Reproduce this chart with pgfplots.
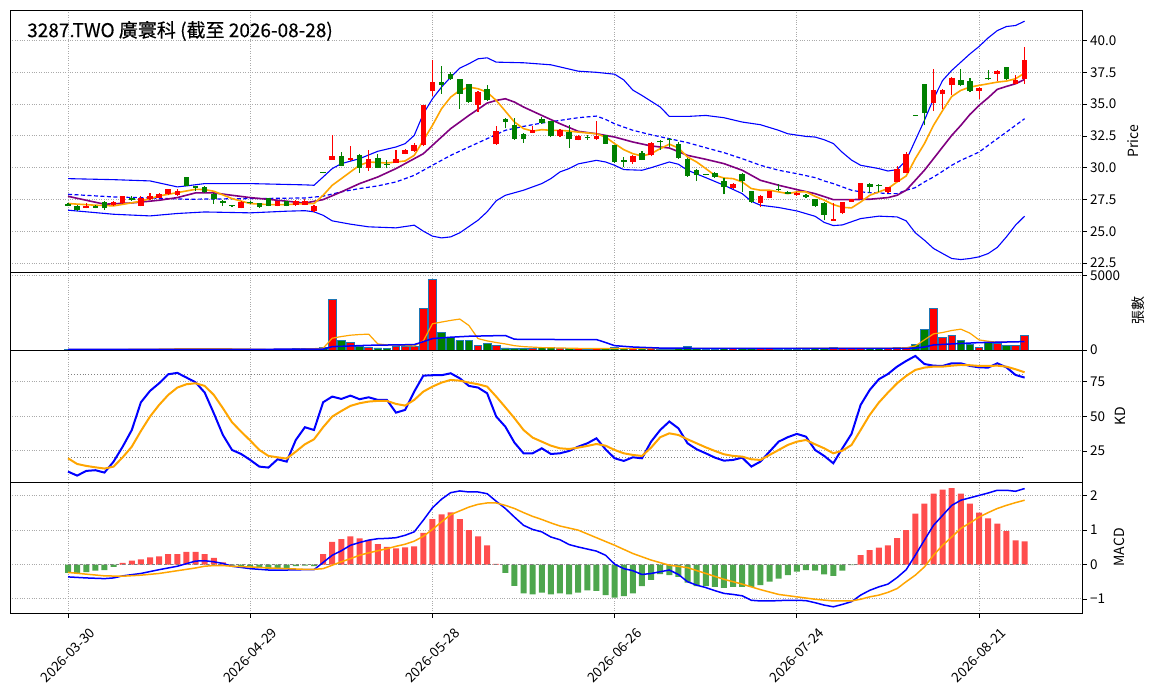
\documentclass[border=0pt]{standalone}
\usepackage{fontspec}
\setmainfont{Noto Sans CJK TC}
\newfontfamily\titlefont[FakeBold=0.3]{Noto Sans CJK TC}
\usepackage{pgfplots}
\usepackage{pgfplotstable}
\pgfplotsset{compat=1.18}
\definecolor{cred}{RGB}{255,0,0}
\definecolor{cgreen}{RGB}{0,128,0}
\definecolor{mred}{RGB}{255,77,77}
\definecolor{mgreen}{RGB}{77,166,77}
\definecolor{edgeb}{RGB}{31,119,180}
\definecolor{corange}{RGB}{255,165,0}
\definecolor{cpurple}{RGB}{128,0,128}
\definecolor{gridc}{RGB}{170,170,170}

\pgfplotstableread{
i o h l c v
2 26.85 27.25 26.80 27.00 25
5 27.03 27.35 27.00 27.30 30
6 27.20 27.80 27.15 27.75 50
8 27.00 27.75 26.95 27.65 30
9 27.50 28.05 27.45 27.80 45
10 27.65 28.00 27.60 27.90 40
11 27.90 28.35 27.85 28.30 50
12 27.85 28.35 27.80 28.15 45
19 26.85 27.35 26.80 27.30 30
23 27.00 27.40 26.95 27.35 40
25 27.05 27.45 27.00 27.35 100
26 27.10 27.50 27.05 27.36 110
27 26.60 27.05 26.55 27.00 120
29 30.63 32.60 30.60 30.90 3400
31 30.58 31.70 30.55 30.80 520
33 30.00 31.40 29.74 30.66 180
36 30.40 31.37 30.35 30.66 250
37 31.10 31.50 31.05 31.40 250
38 31.30 31.95 31.25 31.78 250
39 31.76 34.95 31.70 34.90 2800
40 36.00 38.43 35.60 36.70 4750
45 34.95 36.00 34.40 35.94 315
47 31.84 33.25 31.80 32.90 315
51 32.73 33.30 32.70 33.00 90
54 32.46 33.05 32.40 33.00 90
56 32.20 32.55 32.15 32.46 80
58 32.23 33.64 32.20 32.46 90
62 30.45 31.00 30.30 30.95 90
64 30.97 32.00 30.90 31.97 120
73 28.41 28.80 28.35 28.75 80
76 27.23 27.85 26.90 27.80 110
77 27.65 28.20 27.60 28.15 90
80 27.83 28.10 27.80 28.04 60
84 25.82 27.20 25.80 25.98 180
85 26.40 27.30 26.35 27.27 110
86 27.32 27.55 27.30 27.50 80
87 27.52 28.80 27.50 28.78 130
90 28.10 28.50 28.05 28.46 90
91 28.88 30.15 28.85 29.90 180
92 29.60 31.25 29.55 31.05 200
95 35.08 37.78 34.45 36.08 2800
96 35.76 36.20 34.65 36.13 855
97 36.47 37.10 35.70 37.07 990
100 36.02 36.35 35.40 36.28 180
102 37.38 37.70 36.80 37.57 450
104 36.62 37.30 36.55 36.86 290
105 36.94 39.50 36.60 38.43 990
}\upT

\pgfplotstableread{
i o h l c v
0 27.12 27.20 26.95 27.02 40
1 27.00 27.05 26.60 26.65 30
3 26.95 27.05 26.80 26.85 20
4 27.30 27.35 26.70 26.80 35
7 27.65 27.80 27.40 27.45 40
13 29.25 29.28 28.55 28.57 80
14 28.55 28.60 28.20 28.40 40
15 28.50 28.55 28.05 28.10 35
16 27.95 28.00 27.15 27.50 40
17 27.40 27.45 27.00 27.25 25
18 27.00 27.02 26.95 26.97 20
20 27.30 27.35 27.15 27.20 25
21 27.20 27.25 26.85 26.90 30
22 27.60 27.65 26.95 27.00 35
24 27.35 27.40 26.95 27.00 50
28 29.62 29.65 29.55 29.58 170
30 30.90 31.20 30.10 30.14 650
32 31.00 31.05 29.60 30.00 250
34 30.80 31.05 29.95 30.00 135
35 30.27 30.60 29.95 30.20 110
41 36.70 37.96 35.80 36.50 1150
42 37.38 37.50 36.90 36.96 810
43 36.94 36.95 34.64 35.80 610
44 36.55 36.60 35.10 35.16 650
46 36.20 36.50 35.25 35.30 450
48 33.85 33.90 33.10 33.60 135
49 33.33 33.93 32.20 32.26 90
50 32.67 32.70 31.97 32.23 90
52 33.85 33.95 33.45 33.50 180
53 33.64 33.70 32.40 32.46 180
55 32.80 33.38 31.58 32.23 90
57 32.40 32.55 32.20 32.33 70
59 32.54 32.60 31.85 31.89 100
60 31.76 31.80 30.40 30.45 150
61 30.55 30.85 30.05 30.47 80
63 31.16 31.30 30.60 30.63 100
65 32.10 32.15 31.40 32.00 70
66 32.25 32.30 31.60 32.15 60
67 31.89 32.05 30.70 30.76 130
68 30.71 30.75 29.30 29.37 250
69 29.85 29.90 28.95 29.40 120
70 29.47 29.50 29.40 29.43 60
71 29.58 29.70 29.20 29.27 70
72 28.93 29.20 27.90 28.49 120
74 29.53 29.60 28.10 28.96 100
75 28.15 28.20 27.25 27.31 130
78 28.36 28.75 28.20 28.23 70
79 28.12 28.15 27.90 27.96 60
81 27.83 27.90 27.60 27.70 50
82 27.52 27.55 26.90 26.97 90
83 27.26 27.30 25.85 26.30 120
88 28.75 28.78 28.00 28.50 100
89 28.58 28.75 28.10 28.54 80
93 34.12 34.15 34.05 34.08 360
94 36.55 36.60 33.33 34.30 1395
98 36.86 37.78 36.40 36.47 650
99 36.78 37.05 35.95 36.02 360
101 37.07 37.65 36.90 36.97 495
103 37.88 37.90 36.90 36.94 290
}\dnT

\pgfplotstableread{
i v
6 0.05
7 0.11
8 0.15
9 0.21
10 0.24
11 0.30
12 0.30
13 0.37
14 0.37
15 0.30
16 0.19
17 0.06
28 0.30
29 0.66
30 0.74
31 0.82
32 0.76
33 0.71
34 0.59
35 0.51
36 0.47
37 0.50
38 0.53
39 0.92
40 1.32
41 1.46
42 1.52
43 1.32
44 1.00
45 0.82
46 0.56
47 0.02
87 0.27
88 0.42
89 0.49
90 0.56
91 0.77
92 1.00
93 1.48
94 1.77
95 2.06
96 2.18
97 2.22
98 2.06
99 1.77
100 1.51
101 1.34
102 1.19
103 0.97
104 0.70
105 0.67
}\macdUp

\pgfplotstableread{
i v
0 -0.24
1 -0.24
2 -0.22
3 -0.18
4 -0.16
5 -0.07
18 -0.03
19 -0.04
20 -0.07
21 -0.09
22 -0.13
23 -0.12
24 -0.12
25 -0.05
26 -0.03
27 -0.05
48 -0.24
49 -0.62
50 -0.84
51 -0.87
52 -0.82
53 -0.87
54 -0.84
55 -0.87
56 -0.82
57 -0.75
58 -0.77
59 -0.89
60 -0.96
61 -0.92
62 -0.84
63 -0.63
64 -0.45
65 -0.28
66 -0.31
67 -0.36
68 -0.53
69 -0.63
70 -0.63
71 -0.65
72 -0.68
73 -0.65
74 -0.65
75 -0.65
76 -0.60
77 -0.50
78 -0.41
79 -0.31
80 -0.21
81 -0.16
82 -0.18
83 -0.29
84 -0.33
85 -0.18
86 -0.02
}\macdDn

\pgfplotsset{
 panel/.style={
  scale only axis, width=1072pt, anchor=south west,
  xmin=-6.37, xmax=111.3,
  xtick={0,20,40,60,80,100},
  xticklabels={},
  xtick pos=bottom,
  ytick pos=right, yticklabel pos=right,
  tick align=outside,
  major tick length=4.5pt,
  tick style={black, line width=0.8pt},
  axis line style={line width=0.9pt},
  grid=major,
  major grid style={gridc, dotted, line width=0.9pt},
  ticklabel style={font=\fontsize{13.5}{16}\selectfont},
  /pgf/number format/assume math mode=true,
  scaled y ticks=false,
  every axis y label/.style={rotate=90, anchor=center, font=\fontsize{14}{16}\selectfont},
 },
 wick/.style={draw=none, mark=none, forget plot,
   error bars/.cd, y dir=plus, y explicit, error mark=none,
   error bar style={line width=1.1pt, draw=#1, solid}},
 body/.style={draw=none, mark=none, forget plot,
   error bars/.cd, y dir=plus, y explicit, error mark=none,
   error bar style={line width=5.6pt, draw=#1, solid}},
}

\begin{document}
\begin{tikzpicture}
\useasboundingbox (0,0) rectangle (1155pt,698pt);

% ---------------- Price panel ----------------
\begin{axis}[panel, at={(10pt,426pt)}, height=262pt,
  ymin=21.8, ymax=42.4,
  ytick={22.5,25,27.5,30,32.5,35,37.5,40},
  yticklabels={22.5,25.0,27.5,30.0,32.5,35.0,37.5,40.0},
  xtick style={draw=none},
  ylabel={Price}, ylabel style={at={(axis description cs:1.0476,0.5)}}]
% Bollinger upper
\addplot[blue, line width=1.1pt] coordinates {(0,29.14) (5,29.06) (9,28.96) (12,28.49) (13,28.57) (15,28.75) (20,28.75) (26,28.65) (27,28.62) (28,29.27) (29,29.93) (30,30.32) (32,30.71) (34,31.29) (36,31.63) (37,31.89) (38,32.54) (39,34.24) (40,35.42) (41,36.34) (42,37.12) (43,37.83) (44,38.17) (45,38.56) (46,38.64) (47,38.3) (50,38.25) (53,38.09) (56,37.59) (58,37.5) (60,37.35) (61,36.9) (62,36.1) (63,35.68) (65,34.77) (66,34.03) (68,34.03) (70,34.11) (72,33.93) (74,33.59) (76,33.38) (78,32.94) (79,32.67) (81,32.46) (82,32.41) (83,32.2) (84,31.9) (85,31.2) (86,30.6) (87,30.19) (88,30.06) (89,29.93) (90,29.74) (91,29.85) (92,30.58) (93,32.15) (94,33.72) (95,35.42) (96,36.86) (97,37.65) (98,38.3) (99,38.95) (100,39.53) (101,40.21) (102,40.78) (103,41.1) (104,41.18) (105,41.52)};
% Bollinger lower
\addplot[blue, line width=1.1pt] coordinates {(0,26.66) (5,26.34) (9,26.21) (12,26.4) (15,26.52) (20,26.45) (24,26.58) (26,26.62) (27,26.53) (28,26.26) (29,25.82) (31,25.56) (33,25.35) (36,25.27) (38,25.48) (39,25.01) (40,24.62) (41,24.48) (42,24.56) (43,24.88) (45,25.87) (46,26.53) (47,27.4) (48,27.83) (50,28.23) (52,28.75) (53,29.14) (54,29.67) (55,29.93) (56,30.3) (58,30.58) (59,30.45) (60,30.19) (61,29.85) (63,29.8) (64,30.0) (66,30.45) (67,30.27) (68,29.8) (70,29.22) (72,28.62) (74,27.96) (75,27.36) (76,27.05) (78,26.87) (80,26.6) (82,26.18) (83,25.7) (84,25.45) (85,25.5) (86,25.75) (87,26.0) (89,26.19) (91,26.13) (92,25.82) (93,24.88) (94,24.3) (95,23.65) (96,23.25) (97,22.86) (98,22.78) (99,22.86) (100,22.99) (101,23.25) (102,23.73) (103,24.56) (104,25.48) (105,26.19)};
% dashed MA
\addplot[blue, line width=1.2pt, dash pattern=on 4pt off 2.5pt] coordinates {(0,27.91) (5,27.7) (9,27.62) (13,27.52) (20,27.57) (26,27.62) (28,27.76) (30,28.1) (32,28.36) (34,28.57) (36,28.88) (38,29.4) (40,30.19) (42,30.97) (44,31.63) (46,32.28) (48,32.94) (50,33.25) (52,33.51) (54,33.72) (56,33.93) (58,34.06) (59,33.8) (60,33.45) (62,32.94) (64,32.59) (66,32.28) (68,31.97) (70,31.57) (72,31.18) (74,30.71) (76,30.19) (78,29.8) (80,29.53) (82,29.22) (83,28.96) (84,28.75) (85,28.49) (86,28.23) (87,28.1) (88,28.04) (89,28.02) (90,27.96) (91,27.96) (92,28.23) (93,28.43) (94,28.88) (95,29.27) (96,29.72) (97,30.19) (98,30.58) (99,30.9) (100,31.23) (101,31.76) (102,32.28) (103,32.8) (104,33.33) (105,33.85)};
% MA (purple)
\addplot[cpurple, line width=1.6pt] coordinates {(0,27.75) (2,27.44) (4,27.13) (7,27.23) (10,27.44) (12,27.65) (14,28.02) (16,28.02) (18,27.83) (20,27.65) (23,27.44) (26,27.22) (28,27.49) (30,28.1) (32,28.75) (34,29.27) (36,29.93) (38,30.71) (39,31.1) (40,31.76) (42,33.07) (44,34.11) (46,35.08) (47,35.29) (48,35.42) (49,35.16) (50,34.77) (52,34.11) (54,33.46) (56,32.86) (58,32.67) (60,32.41) (62,32.02) (64,31.71) (66,31.55) (68,30.97) (70,30.66) (72,30.32) (74,29.8) (76,29.01) (78,28.62) (80,28.28) (82,27.96) (84,27.49) (86,27.49) (88,27.52) (90,27.65) (91,27.83) (92,28.23) (93,29.01) (94,29.8) (95,30.71) (96,31.63) (97,32.54) (98,33.33) (99,34.19) (100,34.9) (101,35.5) (102,36.16) (103,36.39) (104,36.6) (105,36.94)};
% MA5 (orange)
\addplot[corange, line width=1.6pt] coordinates {(0,27.18) (3,27.05) (5,27.0) (8,27.36) (10,27.78) (12,28.04) (14,28.3) (15,28.28) (16,28.15) (18,27.57) (20,27.18) (22,27.1) (24,27.1) (26,27.18) (27,27.18) (28,27.83) (29,28.62) (30,29.14) (31,29.67) (32,30.19) (33,30.45) (35,30.37) (37,30.53) (38,30.97) (39,32.15) (40,33.33) (41,34.64) (42,35.55) (43,36.08) (44,36.34) (45,36.21) (46,35.94) (47,35.29) (48,34.45) (49,33.59) (50,33.07) (51,32.88) (52,32.99) (53,32.94) (54,32.94) (55,32.88) (56,32.8) (58,32.67) (59,32.41) (60,31.89) (61,31.42) (62,31.1) (63,30.92) (64,31.1) (65,31.5) (66,31.85) (67,31.55) (68,30.84) (69,30.45) (70,29.93) (71,29.4) (72,29.19) (73,29.14) (74,28.88) (75,28.36) (76,28.23) (77,28.23) (78,28.1) (79,27.96) (80,28.1) (81,28.1) (82,27.75) (83,27.45) (84,27.1) (85,26.88) (86,26.84) (87,27.3) (88,27.83) (89,28.1) (90,28.36) (91,28.88) (92,29.35) (93,30.71) (94,31.89) (95,33.33) (96,34.5) (97,35.6) (98,36.08) (99,36.34) (100,36.47) (101,36.6) (102,36.73) (103,36.81) (104,36.99) (105,37.44)};
% candles
\addplot[wick=cred] table[x=i, y=l, y error expr=\thisrow{h}-\thisrow{l}] \upT;
\addplot[wick=cgreen] table[x=i, y=l, y error expr=\thisrow{h}-\thisrow{l}] \dnT;
\addplot[body=cred] table[x=i, y=o, y error expr={max(\thisrow{c}-\thisrow{o},0.1)}] \upT;
\addplot[body=cgreen] table[x=i, y=c, y error expr={max(\thisrow{o}-\thisrow{c},0.1)}] \dnT;
\node[anchor=west, inner sep=0pt, font=\titlefont\fontsize{19}{22}\selectfont] at (rel axis cs:0.0159,0.92) {3287.TWO 廣寰科 (截至 2026-08-28)};
\end{axis}

% ---------------- Volume panel ----------------
\begin{axis}[panel, at={(10pt,348pt)}, height=78pt,
  ymin=0, ymax=5220,
  ytick={0,5000}, yticklabels={0,5000},
  xtick style={draw=none},
  ylabel={張數}, ylabel style={at={(axis description cs:1.052,0.5)}}]
\addplot[ybar, bar width=7.6pt, bar shift=0pt, fill=cred, draw=edgeb, line width=0.8pt, forget plot] table[x=i, y=v] \upT;
\addplot[ybar, bar width=7.6pt, bar shift=0pt, fill=cgreen, draw=edgeb, line width=0.8pt, forget plot] table[x=i, y=v] \dnT;
\addplot[corange, line width=1.2pt] coordinates {(0,30) (5,35) (10,60) (13,90) (16,90) (19,70) (22,40) (25,60) (27,90) (28,120) (29,790) (30,900) (31,990) (32,1035) (33,1060) (34,405) (35,340) (36,330) (37,300) (38,270) (39,610) (40,1755) (41,1870) (42,1980) (43,2070) (44,1640) (45,765) (46,610) (47,500) (48,405) (49,290) (50,225) (52,160) (54,135) (56,110) (60,100) (70,110) (80,110) (85,120) (90,120) (92,150) (93,270) (94,675) (95,1080) (96,1170) (97,1305) (98,1395) (99,1125) (100,675) (101,585) (102,520) (103,540) (104,560) (105,560)};
\addplot[blue, line width=1.5pt] coordinates {(0,40) (10,40) (20,45) (28,60) (29,225) (33,315) (38,360) (39,560) (40,765) (42,855) (44,920) (48,970) (49,720) (54,700) (58,700) (59,500) (60,290) (62,200) (65,130) (70,110) (80,105) (90,110) (92,110) (93,130) (94,200) (95,340) (97,405) (100,495) (105,560)};
\end{axis}

% ---------------- KD panel ----------------
\begin{axis}[panel, at={(10pt,216pt)}, height=132pt,
  ymin=2.6, ymax=97.8,
  ytick={25,50,75},
  xtick style={draw=none},
  ylabel={KD}, ylabel style={at={(axis description cs:1.036,0.5)}}]
\addplot[gray, dotted, line width=0.9pt, forget plot] coordinates {(0,80) (105,80)};
\addplot[gray, dotted, line width=0.9pt, forget plot] coordinates {(0,20) (105,20)};
\addplot[blue, line width=2pt] coordinates {(0,10.1) (1,7.2) (2,10.6) (3,11.1) (4,9.4) (5,17.3) (6,28.1) (7,40.1) (8,60.1) (9,68.3) (10,73.8) (11,80.3) (12,81.3) (13,77.9) (14,74.5) (15,67.1) (16,52.2) (17,36.5) (18,25.7) (19,22.8) (20,18.5) (21,13.7) (22,13.0) (23,19.0) (24,17.3) (25,32.9) (26,42.1) (27,40.1) (28,60.1) (29,64.2) (30,62.5) (31,64.9) (32,62.3) (33,63.7) (34,61.8) (35,61.8) (36,52.6) (37,54.6) (38,67.8) (39,79.3) (40,79.6) (41,79.6) (42,81.0) (43,77.4) (44,71.9) (45,70.7) (46,66.6) (47,49.8) (48,42.5) (49,31.0) (50,23.3) (51,23.3) (52,26.9) (53,22.8) (54,23.3) (55,25.0) (56,28.1) (57,30.5) (58,34.1) (59,26.2) (60,19.7) (61,17.8) (62,20.4) (63,19.7) (64,31.7) (65,40.1) (66,46.2) (67,41.3) (68,30.5) (69,26.2) (70,23.3) (71,20.2) (72,18.0) (73,18.5) (74,20.2) (75,13.7) (76,17.3) (77,24.5) (78,31.7) (79,34.9) (80,37.3) (81,35.3) (82,25.7) (83,21.4) (84,16.1) (85,26.9) (86,37.3) (87,58.2) (88,69.0) (89,76.7) (90,80.5) (91,85.8) (92,89.9) (93,93.5) (94,87.7) (95,86.5) (96,86.3) (97,88.2) (98,88.2) (99,86.3) (100,85.3) (101,85.1) (102,88.2) (103,85.3) (104,79.8) (105,77.9)};
\addplot[corange, line width=2pt] coordinates {(0,19.7) (1,15.6) (2,14.2) (3,13.2) (4,12.3) (5,13.7) (6,20.4) (7,28.1) (8,39.4) (9,49.8) (10,58.2) (11,65.4) (12,70.7) (13,73.1) (14,73.8) (15,71.9) (16,65.4) (17,55.8) (18,45.7) (19,38.9) (20,32.5) (21,25.7) (22,21.4) (23,20.4) (24,19.5) (25,24.5) (26,29.8) (27,33.4) (28,42.1) (29,49.8) (30,53.8) (31,57.5) (32,59.4) (33,60.6) (34,61.1) (35,61.1) (36,58.9) (37,57.7) (38,61.8) (39,67.8) (40,71.4) (41,74.3) (42,76.2) (43,75.7) (44,74.3) (45,73.1) (46,71.4) (47,64.2) (48,56.5) (49,48.6) (50,40.1) (51,34.6) (52,31.7) (53,28.8) (54,26.9) (55,26.4) (56,27.4) (57,28.6) (58,30.0) (59,28.8) (60,25.7) (61,23.3) (62,22.1) (63,21.4) (64,27.4) (65,34.9) (66,37.7) (67,36.5) (68,33.4) (69,30.5) (70,27.6) (71,25.0) (72,22.6) (73,21.4) (74,20.9) (75,19.0) (76,18.5) (77,22.1) (78,25.7) (79,29.3) (80,31.7) (81,32.9) (82,29.8) (83,26.9) (84,23.3) (85,25.2) (86,29.3) (87,40.1) (88,51.0) (89,59.9) (90,67.1) (91,73.8) (92,79.1) (93,83.4) (94,85.1) (95,85.8) (96,85.8) (97,86.5) (98,87.0) (99,86.8) (100,86.3) (101,86.3) (102,86.5) (103,85.8) (104,83.9) (105,81.7)};
\end{axis}

% ---------------- MACD panel ----------------
\begin{axis}[panel, at={(10pt,85pt)}, height=131pt,
  ymin=-1.41, ymax=2.40,
  ytick={-1,0,1,2}, yticklabels={−1,0,1,2},
  xticklabels={2026-03-30,2026-04-29,2026-05-28,2026-06-26,2026-07-24,2026-08-21},
  xticklabel style={rotate=45, anchor=center},
  xticklabel shift=38pt,
  ylabel={MACD}, ylabel style={at={(axis description cs:1.035,0.5)}}]
\addplot[ybar, bar width=6pt, bar shift=0pt, fill=mred, draw=none, forget plot] table[x=i, y=v] \macdUp;
\addplot[ybar, bar width=6pt, bar shift=0pt, fill=mgreen, draw=none, forget plot] table[x=i, y=v] \macdDn;
\addplot[gray, dashed, line width=1pt, forget plot] coordinates {(0,0) (105,0)};
\addplot[blue, line width=1.5pt] coordinates {(0,-0.36) (2,-0.39) (4,-0.41) (5,-0.39) (6,-0.33) (8,-0.26) (10,-0.15) (12,-0.05) (14,0.10) (15,0.11) (16,0.08) (17,0.03) (18,-0.05) (20,-0.12) (22,-0.16) (24,-0.16) (26,-0.15) (27,-0.15) (28,0.06) (29,0.27) (30,0.40) (31,0.56) (32,0.64) (33,0.71) (34,0.75) (35,0.76) (36,0.78) (37,0.85) (38,0.95) (39,1.29) (40,1.65) (41,1.90) (42,2.09) (43,2.14) (44,2.11) (45,2.11) (46,2.06) (47,1.84) (48,1.63) (49,1.38) (50,1.14) (51,1.02) (52,0.95) (53,0.80) (54,0.72) (55,0.58) (56,0.51) (58,0.39) (59,0.27) (60,0.01) (61,-0.12) (62,-0.18) (63,-0.29) (64,-0.26) (65,-0.21) (66,-0.16) (67,-0.29) (68,-0.50) (69,-0.60) (70,-0.67) (71,-0.76) (72,-0.84) (73,-0.87) (74,-0.91) (75,-1.04) (76,-1.06) (77,-1.06) (78,-1.05) (79,-1.04) (80,-1.04) (81,-1.05) (82,-1.11) (83,-1.18) (84,-1.23) (85,-1.16) (86,-1.08) (87,-0.89) (88,-0.75) (89,-0.65) (90,-0.57) (91,-0.38) (92,-0.15) (93,0.27) (94,0.71) (95,1.14) (96,1.43) (97,1.72) (98,1.87) (99,1.94) (100,2.01) (101,2.08) (102,2.16) (103,2.16) (104,2.13) (105,2.21)};
\addplot[corange, line width=1.5pt] coordinates {(0,-0.23) (2,-0.28) (4,-0.33) (6,-0.34) (8,-0.31) (10,-0.26) (12,-0.18) (14,-0.10) (15,-0.05) (16,-0.03) (17,-0.03) (18,-0.05) (20,-0.07) (22,-0.10) (24,-0.12) (26,-0.14) (27,-0.14) (28,-0.12) (29,-0.02) (30,0.08) (31,0.17) (32,0.27) (33,0.34) (34,0.40) (35,0.46) (36,0.53) (37,0.59) (38,0.68) (39,0.82) (40,1.02) (41,1.24) (42,1.45) (43,1.56) (44,1.67) (45,1.75) (46,1.79) (47,1.79) (48,1.72) (49,1.63) (50,1.51) (51,1.40) (52,1.31) (53,1.21) (54,1.12) (56,1.00) (58,0.78) (60,0.56) (62,0.32) (64,0.13) (66,-0.02) (68,-0.09) (70,-0.26) (72,-0.43) (74,-0.57) (76,-0.73) (78,-0.87) (80,-0.94) (82,-1.01) (84,-1.06) (86,-1.06) (87,-1.01) (88,-0.94) (89,-0.89) (90,-0.81) (91,-0.70) (92,-0.50) (93,-0.31) (94,-0.07) (95,0.27) (96,0.56) (97,0.80) (98,1.05) (99,1.21) (100,1.38) (101,1.51) (102,1.63) (103,1.72) (104,1.80) (105,1.87)};
\end{axis}
\end{tikzpicture}
\end{document}
